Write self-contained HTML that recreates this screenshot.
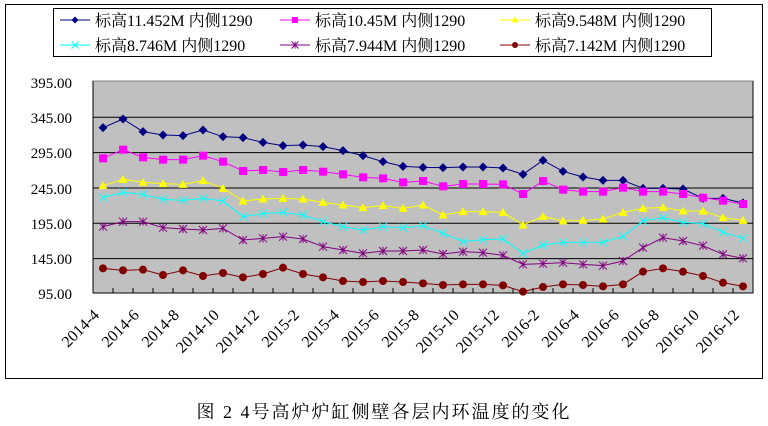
<!DOCTYPE html>
<html><head><meta charset="utf-8"><style>
body{margin:0;background:#fff;width:768px;height:426px;overflow:hidden}
svg{display:block;font-family:"Liberation Serif","Noto Serif CJK SC",serif}
</style></head><body>
<svg id="s" width="768" height="426" xmlns="http://www.w3.org/2000/svg">
<rect x="5.5" y="4.5" width="757" height="374" fill="#fff" stroke="#000" stroke-width="1"/>
<rect x="93" y="81" width="660" height="212" fill="#c0c0c0" stroke="#808080" stroke-width="1"/>
<g stroke="#000" stroke-width="1">
<line x1="93" y1="117.3" x2="753" y2="117.3"/>
<line x1="93" y1="152.6" x2="753" y2="152.6"/>
<line x1="93" y1="188" x2="753" y2="188"/>
<line x1="93" y1="223.3" x2="753" y2="223.3"/>
<line x1="93" y1="258.6" x2="753" y2="258.6"/>
<line x1="93" y1="293" x2="753" y2="293"/>
<line x1="93" y1="81" x2="93" y2="293"/>
<line x1="753" y1="81" x2="753" y2="293"/>
</g>
<g id="ticks" stroke="#000"></g>
<g font-size="15" text-anchor="end" fill="#000">
<text x="72" y="88">395.00</text><text x="72" y="123">345.00</text><text x="72" y="158">295.00</text>
<text x="72" y="194">245.00</text><text x="72" y="229">195.00</text><text x="72" y="264">145.00</text>
<text x="72" y="299">95.00</text>
</g>
<g id="xl" font-size="16" text-anchor="end"></g>
<g id="series"></g>
<rect x="53.5" y="8.5" width="658" height="48" fill="#fff" stroke="#000"/>
<g id="leg" font-size="16"></g>
<text x="384" y="418" font-size="18" letter-spacing="2" text-anchor="middle">图 2  4号高炉炉缸侧壁各层内环温度的变化</text>
</svg>
<script>
const NS="http://www.w3.org/2000/svg";
function el(t,a,p){const e=document.createElementNS(NS,t);for(const k in a)e.setAttribute(k,a[k]);p.appendChild(e);return e;}
const tk=document.getElementById('ticks');
for(let i=0;i<=33;i++){const x=93+20*i;el('line',{x1:x,y1:293,x2:x,y2:288},tk);}
const labs=["2014-4","2014-6","2014-8","2014-10","2014-12","2015-2","2015-4","2015-6","2015-8","2015-10","2015-12","2016-2","2016-4","2016-6","2016-8","2016-10","2016-12"];
const xl=document.getElementById('xl');
labs.forEach((l,k)=>{const x=100+40*k;const t=el('text',{x:x,y:316,transform:`rotate(-45 ${x} 316)`},xl);t.textContent=l;});
const D=[
["#000080","dia","标高11.452M 内侧1290",[158,132,170,180,182,165,185,188,202,212,210,215,227,242,260,274,277,278,276,276,279,298,256,289,306,316,316,340,340,342,370,370,384]],
["#ff00ff","sq","标高10.45M 内侧1290",[250,224,247,254,254,242,260,288,285,291,285,290,298,307,310,322,318,334,327,327,328,357,318,344,350,350,338,350,350,357,368,377,387]],
["#ffff00","tri","标高9.548M 内侧1290",[332,313,322,326,328,317,340,378,372,370,372,382,390,398,392,400,390,420,410,410,412,450,424,438,436,432,412,400,397,408,408,428,436]],
["#00ffff","x","标高8.746M 内侧1290",[368,352,358,373,376,370,378,425,416,412,420,440,455,465,455,458,452,475,500,494,492,535,510,502,502,502,484,438,428,442,446,472,490]],
["#800080","star","标高7.944M 内侧1290",[455,440,440,458,462,465,460,495,490,485,492,515,525,535,528,528,525,537,530,533,541,568,566,563,568,572,558,518,488,498,512,538,550]],
["#800000","dot","标高7.142M 内侧1290",[580,586,584,600,586,603,594,607,597,578,597,607,618,621,618,621,625,630,628,628,631,650,636,628,630,634,628,590,580,590,603,623,634]]
];
function mk(type,c,x,y,g,r){
 if(type=="dia")el('polygon',{points:`${x},${y-r} ${x+r},${y} ${x},${y+r} ${x-r},${y}`,fill:c},g);
 else if(type=="sq")el('rect',{x:x-r+0.5,y:y-r+0.5,width:2*r-1,height:2*r-1,fill:c},g);
 else if(type=="tri")el('polygon',{points:`${x},${y-r} ${x+r},${y+r-1} ${x-r},${y+r-1}`,fill:c},g);
 else if(type=="dot")el('circle',{cx:x,cy:y,r:r-0.5,fill:c},g);
 else if(type=="x"){el('path',{d:`M${x-r} ${y-r}L${x+r} ${y+r}M${x-r} ${y+r}L${x+r} ${y-r}`,stroke:c,"stroke-width":1},g);}
 else {el('path',{d:`M${x-r} ${y-r}L${x+r} ${y+r}M${x-r} ${y+r}L${x+r} ${y-r}M${x} ${y-r}L${x} ${y+r}`,stroke:c,"stroke-width":1},g);}
}
const sg=document.getElementById('series');
D.forEach(d=>{
 const pts=d[3].map((zy,i)=>[103+20*i,75+zy/3]);
 el('polyline',{points:pts.map(p=>p.join(',')).join(' '),fill:'none',stroke:d[0],"stroke-width":1},sg);
 pts.forEach(p=>mk(d[1],d[0],p[0],p[1],sg,d[1]=="x"||d[1]=="star"?4:4.5));
});
const lg=document.getElementById('leg');
D.forEach((d,i)=>{
 const col=i%3,row=Math.floor(i/3);
 const x0=[60,280,500][col],y=[20,45][row];
 el('line',{x1:x0,y1:y,x2:x0+30,y2:y,stroke:d[0]},lg);
 mk(d[1],d[0],x0+15,y,lg,3.5);
 const t=el('text',{x:x0+35,y:y+6},lg);t.textContent=d[2];
});
</script>
</body></html>
